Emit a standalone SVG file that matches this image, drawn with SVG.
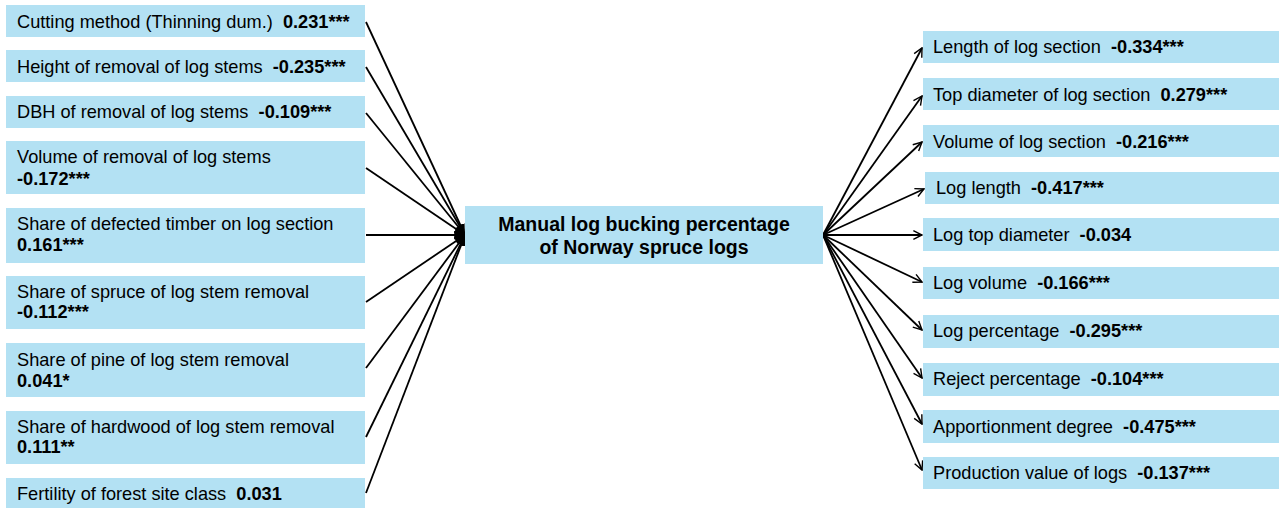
<svg xmlns="http://www.w3.org/2000/svg" width="1279" height="508" viewBox="0 0 1279 508">
<defs>
<style>
.box{fill:#b3e1f3;}
.t{font-family:"Liberation Sans",Arial,sans-serif;font-size:18.2px;fill:#000;white-space:pre;}
.b{font-weight:bold;}
.c{font-family:"Liberation Sans",Arial,sans-serif;font-size:19.5px;font-weight:bold;fill:#000;text-anchor:middle;}
.in{stroke:#000;stroke-width:1.8;fill:none;marker-end:url(#fa);}
.out{stroke:#000;stroke-width:1.8;fill:none;marker-end:url(#oa);}
</style>
<marker id="fa" viewBox="0 0 10 10" refX="10" refY="5" markerWidth="6" markerHeight="5" markerUnits="strokeWidth" orient="auto" preserveAspectRatio="none">
<path d="M0,0 L10,5 L0,10 z" fill="#000"/>
</marker>
<marker id="oa" viewBox="0 0 10 10" refX="9" refY="5" markerWidth="6" markerHeight="6" markerUnits="strokeWidth" orient="auto">
<path d="M1,1 L9,5 L1,9" fill="none" stroke="#000" stroke-width="1.3"/>
</marker>
</defs>
<rect width="1279" height="508" fill="#fff"/>
<g id="connectors">
<line class="in" x1="366" y1="22" x2="465" y2="235"/>
<line class="in" x1="366" y1="67" x2="465" y2="235"/>
<line class="in" x1="366" y1="113" x2="465" y2="235"/>
<line class="in" x1="366" y1="168" x2="465" y2="235"/>
<line class="in" x1="366" y1="235" x2="465" y2="235"/>
<line class="in" x1="366" y1="302" x2="465" y2="235"/>
<line class="in" x1="366" y1="368" x2="465" y2="235"/>
<line class="in" x1="366" y1="437" x2="465" y2="235"/>
<line class="in" x1="366" y1="493" x2="465" y2="235"/>
<line class="out" x1="823" y1="235" x2="922" y2="48"/>
<line class="out" x1="823" y1="235" x2="922" y2="96"/>
<line class="out" x1="823" y1="235" x2="922" y2="142"/>
<line class="out" x1="823" y1="235" x2="924" y2="189"/>
<line class="out" x1="823" y1="235" x2="922" y2="235"/>
<line class="out" x1="823" y1="235" x2="922" y2="282"/>
<line class="out" x1="823" y1="235" x2="922" y2="330"/>
<line class="out" x1="823" y1="235" x2="922" y2="378"/>
<line class="out" x1="823" y1="235" x2="922" y2="424"/>
<line class="out" x1="823" y1="235" x2="922" y2="470"/>
</g>
<g id="center">
<rect class="box" x="465" y="206" width="358" height="58"/>
<text class="c" x="644" y="231">Manual log bucking percentage</text>
<text class="c" x="644" y="254">of Norway spruce logs</text>
</g>
<g id="l1"><rect class="box" x="6" y="5" width="359" height="32"/><text class="t" x="17" y="28">Cutting method (Thinning dum.)  <tspan class="b">0.231***</tspan></text></g>
<g id="l2"><rect class="box" x="6" y="50" width="359" height="32"/><text class="t" x="17" y="73">Height of removal of log stems  <tspan class="b">-0.235***</tspan></text></g>
<g id="l3"><rect class="box" x="6" y="96" width="359" height="32"/><text class="t" x="17" y="118">DBH of removal of log stems  <tspan class="b">-0.109***</tspan></text></g>
<g id="l4"><rect class="box" x="6" y="141" width="359" height="53"/><text class="t" x="17" y="163">Volume of removal of log stems</text><text class="t b" x="17" y="185">-0.172***</text></g>
<g id="l5"><rect class="box" x="6" y="208" width="359" height="55"/><text class="t" x="17" y="230">Share of defected timber on log section</text><text class="t b" x="17" y="251">0.161***</text></g>
<g id="l6"><rect class="box" x="6" y="276" width="359" height="53"/><text class="t" x="17" y="298">Share of spruce of log stem removal</text><text class="t b" x="17" y="318">-0.112***</text></g>
<g id="l7"><rect class="box" x="6" y="343" width="359" height="54"/><text class="t" x="17" y="366">Share of pine of log stem removal</text><text class="t b" x="17" y="387">0.041*</text></g>
<g id="l8"><rect class="box" x="6" y="411" width="359" height="53"/><text class="t" x="17" y="433">Share of hardwood of log stem removal</text><text class="t b" x="17" y="453">0.111**</text></g>
<g id="l9"><rect class="box" x="6" y="478" width="359" height="32"/><text class="t" x="17" y="500">Fertility of forest site class  <tspan class="b">0.031</tspan></text></g>
<g id="r1"><rect class="box" x="923" y="31" width="356" height="32"/><text class="t" x="933" y="53">Length of log section  <tspan class="b">-0.334***</tspan></text></g>
<g id="r2"><rect class="box" x="923" y="78" width="356" height="32"/><text class="t" x="933" y="101">Top diameter of log section  <tspan class="b">0.279***</tspan></text></g>
<g id="r3"><rect class="box" x="923" y="125" width="356" height="32"/><text class="t" x="933" y="148">Volume of log section  <tspan class="b">-0.216***</tspan></text></g>
<g id="r4"><rect class="box" x="925" y="172" width="354" height="32"/><text class="t" x="936" y="194">Log length  <tspan class="b">-0.417***</tspan></text></g>
<g id="r5"><rect class="box" x="923" y="218" width="356" height="33"/><text class="t" x="933" y="241">Log top diameter  <tspan class="b">-0.034</tspan></text></g>
<g id="r6"><rect class="box" x="923" y="267" width="356" height="32"/><text class="t" x="933" y="289">Log volume  <tspan class="b">-0.166***</tspan></text></g>
<g id="r7"><rect class="box" x="923" y="315" width="356" height="33"/><text class="t" x="933" y="337">Log percentage  <tspan class="b">-0.295***</tspan></text></g>
<g id="r8"><rect class="box" x="923" y="363" width="356" height="33"/><text class="t" x="933" y="385">Reject percentage  <tspan class="b">-0.104***</tspan></text></g>
<g id="r9"><rect class="box" x="923" y="410" width="356" height="33"/><text class="t" x="933" y="433">Apportionment degree  <tspan class="b">-0.475***</tspan></text></g>
<g id="r10"><rect class="box" x="923" y="457" width="356" height="32"/><text class="t" x="933" y="479">Production value of logs  <tspan class="b">-0.137***</tspan></text></g>
</svg>
